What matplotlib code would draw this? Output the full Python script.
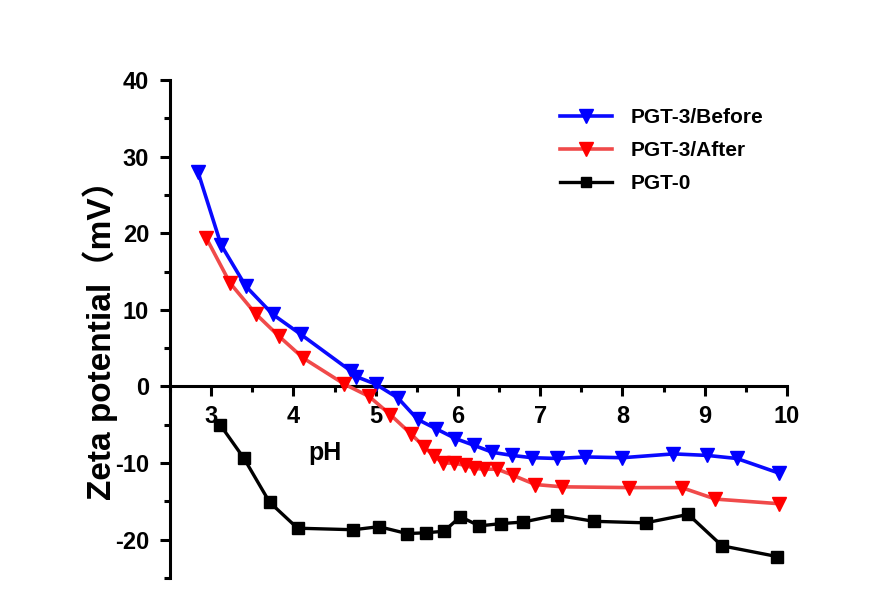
import matplotlib
matplotlib.use("Agg")
import matplotlib.pyplot as plt
from matplotlib.ticker import MultipleLocator

plt.rcParams['font.family'] = ['Liberation Sans', 'Noto Sans CJK SC', 'DejaVu Sans']
plt.rcParams['font.weight'] = 'bold'
plt.rcParams['axes.unicode_minus'] = False

# Zeta potential vs pH
ph_before = [2.84, 3.12, 3.42, 3.75, 4.09, 4.70, 4.76, 5.00, 5.27, 5.51, 5.73, 5.97,
             6.20, 6.42, 6.66, 6.90, 7.21, 7.55, 8.00, 8.62, 9.03, 9.39, 9.90]
zeta_before = [28.0, 18.5, 13.1, 9.4, 6.8, 2.0, 1.3, 0.3, -1.5, -4.3, -5.5, -6.8,
               -7.7, -8.6, -9.0, -9.3, -9.4, -9.2, -9.3, -8.8, -9.0, -9.4, -11.3]

ph_after = [2.94, 3.23, 3.54, 3.82, 4.12, 4.62, 4.92, 5.18, 5.43, 5.59, 5.71, 5.82,
            5.95, 6.09, 6.20, 6.32, 6.48, 6.67, 6.94, 7.27, 8.08, 8.72, 9.13, 9.90]
zeta_after = [19.4, 13.5, 9.5, 6.6, 3.7, 0.3, -1.3, -3.7, -6.2, -7.9, -9.1, -10.0,
              -10.0, -10.3, -10.7, -10.8, -10.8, -11.6, -12.8, -13.1, -13.2, -13.2, -14.7, -15.3]

ph_pgt0 = [3.11, 3.40, 3.71, 4.05, 4.73, 5.04, 5.38, 5.61, 5.83, 6.03, 6.26, 6.52,
           6.79, 7.20, 7.65, 8.28, 8.80, 9.21, 9.88]
zeta_pgt0 = [-5.0, -9.4, -15.1, -18.5, -18.7, -18.3, -19.2, -19.1, -18.9, -17.0, -18.2, -17.9,
             -17.7, -16.8, -17.6, -17.8, -16.7, -20.8, -22.2]

x_ticks = [3, 4, 5, 6, 7, 8, 9, 10]
y_ticks = [-20, -10, 0, 10, 20, 30, 40]

fig = plt.figure(figsize=(8.96, 5.92), dpi=100)
ax = fig.add_axes([170 / 896, 1 - 578 / 592, 617 / 896, 498 / 592])

ax.plot(ph_before, zeta_before, color='#0a0aff', lw=2.6, marker='v', ms=10.5,
        mfc='#0000ff', mec='#0000ff', label='PGT-3/Before', zorder=3)
ax.plot(ph_after, zeta_after, color='#f04a4a', lw=2.6, marker='v', ms=10.5,
        mfc='#ff0000', mec='#ff0000', label='PGT-3/After', zorder=3)
ax.plot(ph_pgt0, zeta_pgt0, color='black', lw=2.4, marker='s', ms=8,
        label='PGT-0', zorder=3)

ax.set_xlim(2.5, 10)
ax.set_ylim(-25, 40)
ax.set_xticks(x_ticks)
ax.set_yticks(y_ticks)
ax.xaxis.set_minor_locator(MultipleLocator(0.5))
ax.yaxis.set_minor_locator(MultipleLocator(5))

ax.spines['top'].set_visible(False)
ax.spines['right'].set_visible(False)
ax.spines['bottom'].set_position(('data', 0))
for s in ('left', 'bottom'):
    ax.spines[s].set_linewidth(2.2)

ax.tick_params(axis='both', which='major', direction='out', width=2.2, length=7,
               labelsize=17)
ax.tick_params(axis='both', which='minor', direction='out', width=2.2, length=4)
ax.tick_params(axis='x', pad=6)
ax.tick_params(axis='y', pad=8)
for lab in ax.get_xticklabels() + ax.get_yticklabels():
    lab.set_fontweight('bold')

ax.set_ylabel('Zeta potential（mV）', fontsize=24, fontweight='bold')
ax.yaxis.set_label_coords(-52 / 617, 0.5 - 3 / 498)
ax.set_xlabel('pH', fontsize=18, fontweight='bold')
ax.xaxis.set_label_coords((325 - 170) / 617, 1 - (441 - 80) / 498)

leg = ax.legend(loc='upper left', bbox_to_anchor=(382 / 617, 1 - (100 - 80) / 498),
                frameon=False, fontsize=15, handlelength=2.5, handletextpad=0.85,
                labelspacing=0.66, markerscale=0.9, borderaxespad=0)
for t in leg.get_texts():
    t.set_fontweight('bold')

fig.savefig('out.png', dpi=100, facecolor='white')
